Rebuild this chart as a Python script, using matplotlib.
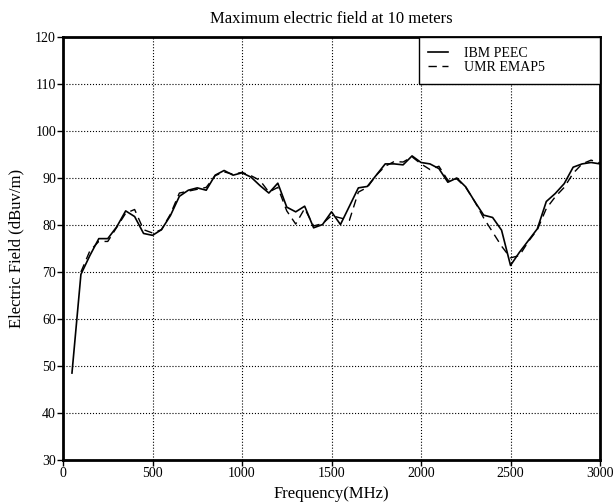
import numpy as np
import matplotlib.pyplot as plt

plt.rcParams['font.family'] = ['Liberation Serif', 'DejaVu Serif']

# IBM PEEC, 50 MHz steps from 50 to 3000 MHz
freq_ibm = np.arange(50, 3001, 50)
e_ibm = [48.5, 69.5, 73.5, 77.1, 77.1, 79.6, 83.0, 81.8, 78.2, 77.8,
         79.0, 82.0, 86.1, 87.4, 87.9, 87.4, 90.6, 91.6, 90.6, 91.1,
         90.2, 88.4, 86.8, 88.9, 83.8, 82.8, 84.0, 79.4, 80.1, 82.8,
         80.1, 84.0, 87.9, 88.2, 90.6, 93.0, 93.0, 92.8, 94.7, 93.3,
         93.0, 92.0, 89.1, 90.0, 88.1, 85.0, 82.1, 81.6, 78.9, 71.4,
         74.2, 76.7, 79.2, 85.0, 86.7, 88.8, 92.3, 93.0, 93.3, 93.0]

# UMR EMAP5, 50 MHz steps from 100 to 3000 MHz
freq_umr = np.arange(100, 3001, 50)
e_umr = [70.0, 74.5, 76.5, 76.5, 79.5, 82.5, 83.3, 79.0, 78.3, 79.0,
         82.3, 86.8, 87.2, 87.6, 88.0, 90.5, 91.3, 90.8, 91.2, 90.5,
         89.5, 87.0, 88.0, 83.0, 80.2, 83.5, 79.8, 80.3, 82.0, 81.5,
         81.0, 87.0, 88.0, 90.6, 92.5, 93.5, 93.4, 94.5, 93.0, 91.8,
         92.5, 89.5, 89.8, 88.0, 85.0, 81.5, 78.5, 75.5, 73.0, 73.5,
         76.5, 79.0, 83.5, 86.0, 88.0, 91.0, 93.0, 93.8, 93.2]

fig = plt.figure(figsize=(6.13, 5.04), dpi=100)
ax = fig.add_axes([0.1028, 0.0873, 0.876, 0.8393])

ax.plot(freq_ibm, e_ibm, 'k-', lw=1.2, label='IBM PEEC')
ax.plot(freq_umr, e_umr, 'k--', lw=1.0, dashes=(6, 4), label='UMR EMAP5')

ax.set_xlim(0, 3000)
ax.set_ylim(30, 120)
ax.set_xticks(np.arange(0, 3001, 500))
ax.set_yticks(np.arange(30, 121, 10))
ax.tick_params(direction='out', labelsize=10, length=4, width=1, pad=1)
for sp in ax.spines.values():
    sp.set_linewidth(2)
ax.grid(True, linestyle=':', color='k', lw=0.8)

ax.set_xlabel('Frequency(MHz)', fontsize=12, labelpad=4)
ax.set_ylabel('Electric Field (dBuv/m)', fontsize=12, labelpad=8)
ax.set_title('Maximum electric field at 10 meters', fontsize=12, pad=10)

leg = ax.legend(loc='upper left', bbox_to_anchor=(0.662, 0, 0.338, 1.0),
                mode='expand', fontsize=10, fancybox=False, framealpha=1,
                edgecolor='k', borderaxespad=0, borderpad=0.7,
                handlelength=1.4, handletextpad=1.2, labelspacing=0.1)
leg.get_frame().set_linewidth(1.0)

fig.savefig('out.png', dpi=100)
